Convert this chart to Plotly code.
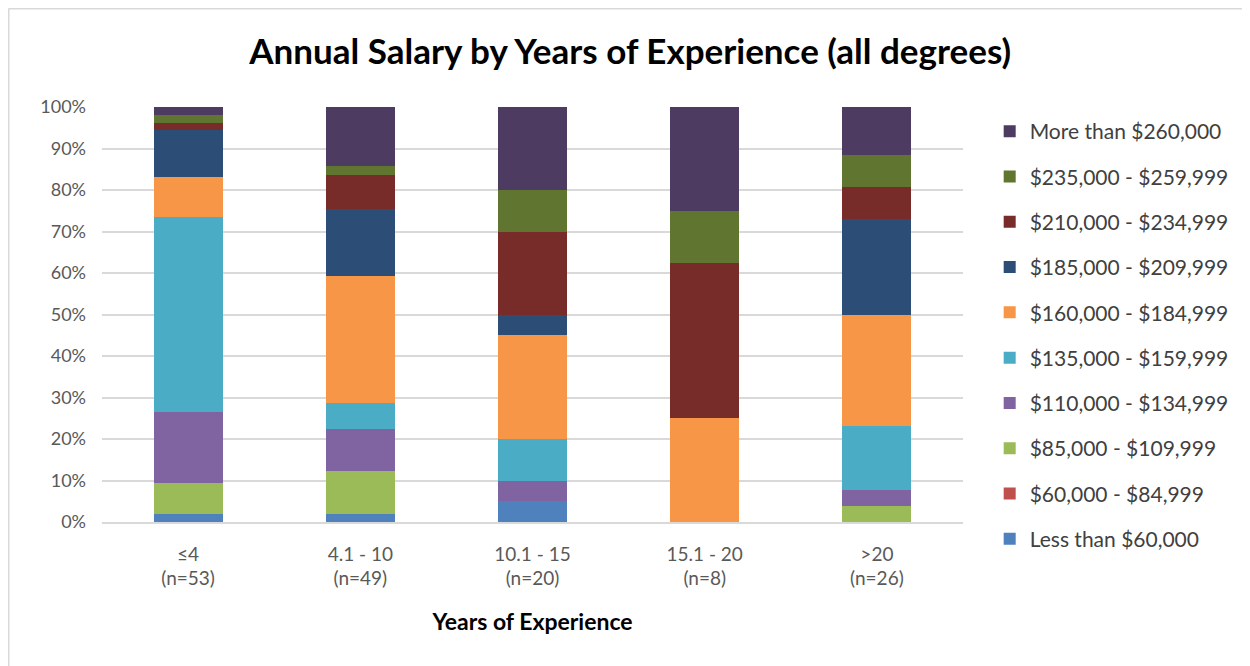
import plotly.graph_objects as go

# Years-of-experience groups (x axis)
groups = ["≤4", "4.1 - 10", "10.1 - 15", "15.1 - 20", ">20"]
group_n = [53, 49, 20, 8, 26]

# respondent counts per salary band, one value per group
less_60k = [1, 1, 1, 0, 0]
s60_85k = [0, 0, 0, 0, 0]
s85_110k = [4, 5, 0, 0, 1]
s110_135k = [9, 5, 1, 0, 1]
s135_160k = [25, 3, 2, 0, 4]
s160_185k = [5, 15, 5, 2, 7]
s185_210k = [6, 8, 1, 0, 6]
s210_235k = [1, 4, 4, 3, 2]
s235_260k = [1, 1, 2, 1, 2]
more_260k = [1, 7, 4, 2, 3]

bands = [
    ("Less than $60,000", less_60k, "#4F81BD"),
    ("$60,000 - $84,999", s60_85k, "#C0504D"),
    ("$85,000 - $109,999", s85_110k, "#9BBB59"),
    ("$110,000 - $134,999", s110_135k, "#8064A2"),
    ("$135,000 - $159,999", s135_160k, "#4BACC6"),
    ("$160,000 - $184,999", s160_185k, "#F79646"),
    ("$185,000 - $209,999", s185_210k, "#2C4D75"),
    ("$210,000 - $234,999", s210_235k, "#772C2A"),
    ("$235,000 - $259,999", s235_260k, "#5F7530"),
    ("More than $260,000", more_260k, "#4D3B62"),
]

FONT = "Lato, Open Sans, sans-serif"

fig = go.Figure()
for i, (name, counts, color) in enumerate(bands):
    fig.add_trace(
        go.Bar(
            x=groups,
            y=counts,
            name=name,
            legendgroup=str(i),
            legendrank=100 - i,  # highest band on top of the legend
            marker=dict(color=color, line=dict(width=0)),
        )
    )

tick_text = [f"{g}<br>(n={n})" for g, n in zip(groups, group_n)]

# page body has an 8px margin, so the figure is a bit smaller than the window
fig.update_layout(
    width=1242,
    height=658,
    barmode="stack",
    barnorm="percent",
    bargap=0.6,
    plot_bgcolor="white",
    paper_bgcolor="white",
    font=dict(family=FONT, color="#595959", size=18),
    margin=dict(l=94, r=287, t=99, b=144, autoexpand=False),
    title=dict(
        text="<b>Annual Salary by Years of Experience (all degrees)</b>",
        x=0.501,
        xanchor="center",
        y=0.933,
        yanchor="middle",
        font=dict(family=FONT, size=35, color="#000000"),
    ),
    legend=dict(
        x=1.031,
        xanchor="left",
        y=0.9904,
        yanchor="top",
        maxheight=500,
        traceorder="grouped",
        tracegroupgap=15,
        font=dict(family=FONT, size=21, color="#404040"),
    ),
    xaxis=dict(
        tickmode="array",
        tickvals=groups,
        ticktext=tick_text,
        tickfont=dict(size=19),
        showgrid=False,
        showline=True,
        linecolor="#d9d9d9",
        linewidth=1.5,
        ticks="",
        ticklabelstandoff=14,
        title=dict(
            text="<b>Years of Experience</b>",
            font=dict(family=FONT, size=23, color="#000000"),
            standoff=26,
        ),
    ),
    yaxis=dict(
        range=[0, 100],
        dtick=10,
        ticksuffix="%",
        showgrid=True,
        gridcolor="#d9d9d9",
        gridwidth=1.5,
        zeroline=False,
        ticks="",
        ticklabelstandoff=15,
    ),
    shapes=[
        dict(type="line", xref="paper", yref="paper",
             x0=-0.1086, x1=1.34, y0=1.2373, y1=1.2373,
             line=dict(color="#d9d9d9", width=2)),
        dict(type="line", xref="paper", yref="paper",
             x0=-0.1086, x1=-0.1086, y0=-0.37, y1=1.2373,
             line=dict(color="#d9d9d9", width=2)),
    ],
)

fig.write_html("out.html")
